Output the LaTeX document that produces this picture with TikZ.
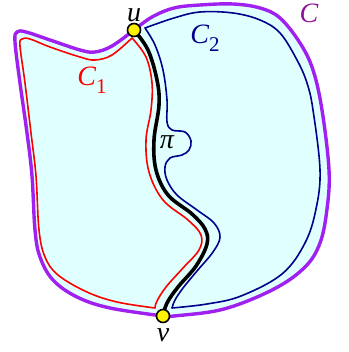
\documentclass[tikz,border=0pt]{standalone}
\usepackage{fontspec}
\setmainfont{Liberation Serif}
\usepackage{tikz}
\usetikzlibrary{positioning}
\definecolor{ringviolet}{RGB}{160,32,240}
\definecolor{labelviolet}{RGB}{140,20,150}
\definecolor{regionfill}{RGB}{224,255,255}
\definecolor{navyline}{RGB}{0,0,139}
\tikzset{
  outerC/.style={draw=ringviolet,line width=3.4pt,fill=regionfill,line join=round},
  cyclered/.style={draw=red,line width=1.6pt,line join=round},
  cycleblue/.style={draw=navyline,line width=1.6pt,line join=round},
  pathpi/.style={draw=black,line width=3.6pt,line cap=round},
  enddot/.style={circle,draw=black,line width=1.6pt,fill=yellow,minimum size=13pt,inner sep=0pt},
  lbl/.style={font=\fontsize{28}{30}\selectfont\itshape,inner sep=0pt}
}
\newcommand{\subnum}[1]{\raisebox{-0.28em}{\fontsize{21}{22}\selectfont\upshape #1}}

\begin{document}
\begin{tikzpicture}[x=1pt,y=-1pt]
  \useasboundingbox (0,0) rectangle (348,352);
  \coordinate (pu) at (134,30);
  \coordinate (pv) at (163,316);
  \path[outerC] plot[smooth,tension=0.6] coordinates {(pu) (152,17) (174,8) (200,5) (233,4) (260,8) (280,18)
      (300,43) (313,70) (322,110) (329,170) (327,209) (320,243) (305,267) (274,289) (224,309)
      (174,316) (pv)}
    -- plot[smooth,tension=0.6] coordinates {(pv) (110,308) (77,297) (53,280) (40,257) (35,230) (32,176)
      (27,133) (20,83) (15,42) (17,32) (26,32) (50,40) (80,50) (95,52) (112,46) (pu)} -- cycle;
  \draw[cyclered] plot[smooth,tension=0.6] coordinates {(132,38) (146,57) (152,83) (151,110) (146,140) (149,172)
      (163,200) (188,220) (201,235) (199,250) (183,268) (166,287) (157,301) (155,308)}
    -- plot[smooth,tension=0.6] coordinates {(155,308) (117,302) (87,292) (58,275) (45,257) (39,230) (36,176)
      (31,133) (25,83) (20,46) (22,39) (30,39) (50,47) (80,57) (95,60) (112,55) (132,38)} -- cycle;
  \draw[cycleblue] plot[smooth,tension=0.6] coordinates {(145,28) (155,45) (163,70) (167,100) (167,122) (172,130)
      (185,132) (191,141) (189,150) (182,155) (170,158) (165,167) (167,180) (177,195) (197,210) (214,223)
      (220,237) (213,252) (197,271) (183,288) (175,300) (172,308)}
    -- plot[smooth,tension=0.6] coordinates {(172,308) (207,304) (241,296) (282,274) (305,243) (316,209)
      (320,170) (313,110) (307,83) (297,60) (280,33) (260,20) (233,13) (200,12) (174,18) (145,28)} -- cycle;
  \draw[pathpi] plot[smooth,tension=0.6] coordinates {(pu) (148,50) (157,80) (159,105) (154,140) (156,170)
      (168,195) (192,214) (205,229) (207,244) (196,266) (178,287) (167,303) (pv)};
  \node[enddot] (u) at (pu) {};
  \node[enddot] (v) at (pv) {};
  \node[lbl,above=1pt of u] (ulbl) {u};
  \node[lbl,below=5pt of v] (vlbl) {v};
  \node[lbl,text=labelviolet] (clbl) at (309,13) {C};
  \node[lbl,text=red] (c1lbl) at (92,80) {C\subnum{1}};
  \node[lbl,text=navyline] (c2lbl) at (205,38) {C\subnum{2}};
  \node[lbl] (pilbl) at (167,142) {π};
\end{tikzpicture}
\end{document}
